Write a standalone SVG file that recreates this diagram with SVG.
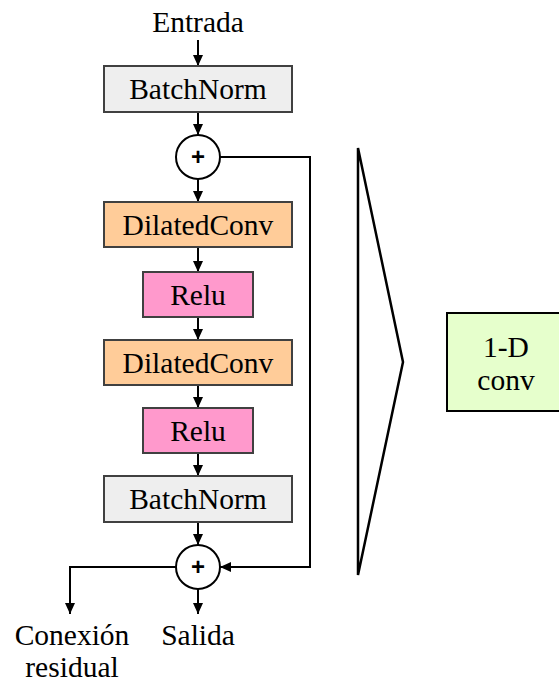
<svg xmlns="http://www.w3.org/2000/svg" width="559" height="684" viewBox="0 0 559 684">
<style>
text{font-family:"Liberation Serif","Times New Roman",serif;fill:#000;text-anchor:middle}
.lbl{font-size:29.5px}
.box{stroke:#404040;stroke-width:2}
.bn{fill:#eeeeee}
.dc{fill:#ffcc99}
.relu{fill:#ff99cc}
.conv{fill:#e6ffcc;stroke:#000;stroke-width:2}
.sum{fill:#fff;stroke:#000;stroke-width:2}
.edge{fill:none;stroke:#000;stroke-width:2}
.plus{font-family:"Liberation Sans",Arial,sans-serif;font-size:24px;font-weight:bold}
</style>
<defs>
<marker id="ah" markerUnits="userSpaceOnUse" markerWidth="12" markerHeight="10" refX="11" refY="5" orient="auto">
<path d="M0,0 L11,5 L0,10 z" fill="#000"/>
</marker>
</defs>
<rect width="559" height="684" fill="#fff"/>
<g id="connectors">
<line class="edge" x1="198" y1="40" x2="198" y2="66" marker-end="url(#ah)"/>
<line class="edge" x1="198" y1="112" x2="198" y2="135" marker-end="url(#ah)"/>
<line class="edge" x1="198" y1="179" x2="198" y2="202" marker-end="url(#ah)"/>
<line class="edge" x1="198" y1="247" x2="198" y2="272" marker-end="url(#ah)"/>
<line class="edge" x1="198" y1="317" x2="198" y2="340" marker-end="url(#ah)"/>
<line class="edge" x1="198" y1="385" x2="198" y2="408" marker-end="url(#ah)"/>
<line class="edge" x1="198" y1="453" x2="198" y2="476" marker-end="url(#ah)"/>
<line class="edge" x1="198" y1="522" x2="198" y2="545" marker-end="url(#ah)"/>
<line class="edge" x1="198" y1="589" x2="198" y2="614" marker-end="url(#ah)"/>
<polyline class="edge" points="176,567 70,567 70,614" marker-end="url(#ah)"/>
<polyline class="edge" points="220,157 310,157 310,567 220,567" marker-end="url(#ah)"/>
</g>
<g id="entrada"><text class="lbl" x="198" y="32">Entrada</text></g>
<g id="batchnorm1"><rect class="box bn" x="104" y="66" width="188" height="46"/><text class="lbl" x="198" y="99">BatchNorm</text></g>
<g id="sum1"><circle class="sum" cx="198" cy="157" r="22"/><text class="plus" x="198" y="165">+</text></g>
<g id="dilatedconv1"><rect class="box dc" x="104" y="202" width="188" height="45"/><text class="lbl" x="198" y="235">DilatedConv</text></g>
<g id="relu1"><rect class="box relu" x="143" y="272" width="110" height="45"/><text class="lbl" x="198" y="305">Relu</text></g>
<g id="dilatedconv2"><rect class="box dc" x="104" y="340" width="188" height="45"/><text class="lbl" x="198" y="373">DilatedConv</text></g>
<g id="relu2"><rect class="box relu" x="143" y="408" width="110" height="45"/><text class="lbl" x="198" y="441">Relu</text></g>
<g id="batchnorm2"><rect class="box bn" x="104" y="476" width="188" height="46"/><text class="lbl" x="198" y="509">BatchNorm</text></g>
<g id="sum2"><circle class="sum" cx="198" cy="567" r="22"/><text class="plus" x="198" y="575">+</text></g>
<g id="salida"><text class="lbl" x="198" y="645">Salida</text></g>
<g id="conexion"><text class="lbl" x="72" y="645">Conexión</text><text class="lbl" x="72" y="677">residual</text></g>
<g id="funnel"><polygon points="358,148 403,362 358,575" fill="none" stroke="#000" stroke-width="2.5"/></g>
<g id="conv1d"><rect class="conv" x="447" y="313" width="125" height="98"/><text class="lbl" x="506" y="357">1-D</text><text class="lbl" x="506" y="390">conv</text></g>
</svg>
